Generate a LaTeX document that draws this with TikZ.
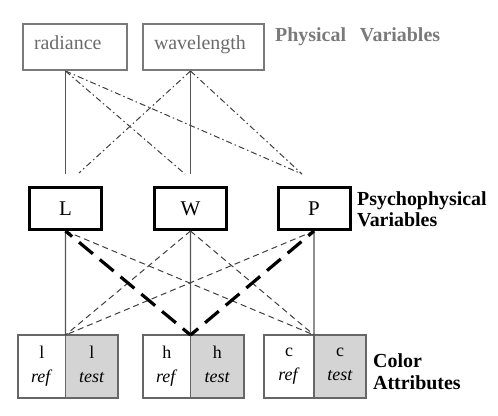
\documentclass[tikz,border=0pt]{standalone}
\usepackage{fontspec}
\setmainfont{Liberation Serif}
\usetikzlibrary{calc}
\definecolor{physgray}{HTML}{7A7A7A}
\definecolor{txtgray}{HTML}{6A6A6A}
\definecolor{linegray}{HTML}{555555}
\definecolor{boxgray}{HTML}{666666}
\definecolor{fillgray}{HTML}{D4D4D4}
\newcommand{\itf}{\vphantom{\textit{f}}}
\begin{document}
\begin{tikzpicture}[x=1bp,y=-1bp,
  physbox/.style={draw=physgray, line width=2bp, minimum height=46bp, inner xsep=11bp, inner ysep=0pt,
    align=left, text height=14bp, text depth=10bp, font=\fontsize{20}{24}\selectfont, text=txtgray},
  psybox/.style={draw=black, line width=3bp, minimum width=72bp, minimum height=42bp,
    font=\fontsize{21}{24}\selectfont},
  attr/.style={draw=boxgray, line width=1.5bp, minimum height=63bp, inner sep=0pt, outer sep=0pt,
    align=center, font=\fontsize{18}{24}\selectfont},
  testattr/.style={attr, fill=fillgray},
  heading/.style={font=\fontsize{20}{21}\selectfont\bfseries, inner sep=0pt, align=left},
  solidc/.style={draw=linegray, line width=1.2bp},
  thind/.style={draw=black!75, line width=1bp, dash pattern=on 6bp off 4bp},
  thickd/.style={draw=black, line width=3.2bp, dash pattern=on 18bp off 9bp, dash phase=8bp},
  dotd/.style={draw=black!75, line width=1bp, dash pattern=on 6bp off 3bp on 1.5bp off 3bp}
]
\useasboundingbox (0,0) rectangle (498,415);

% physical variables
\node[physbox, minimum width=104bp, text width=82bp] (rad) at (75,47) {radiance};
\node[physbox, minimum width=121bp, text width=99bp] (wav) at (203.5,47) {wavelength};
\node[heading, text=physgray, anchor=base west] (physlbl) at (275,41) {Physical\hspace{0.7em}Variables};

% psychophysical variables
\node[psybox] (L) at (65.5,208.5) {L};
\node[psybox] (W) at (190.5,208.5) {W};
\node[psybox] (P) at (314,208.5) {P};
\node[heading, anchor=west] (psylbl) at (357,209.6) {Psychophysical\\Variables};

% colour attributes
\node[attr, minimum width=47.5bp] (lref) at (41.75,366.5) {l\\\textit{ref}};
\node[testattr, minimum width=52.5bp] (ltest) at (91.75,366.5) {l\\\textit{test}\itf};
\node[attr, minimum width=47.5bp] (href) at (166.75,366.5) {h\\\textit{ref}};
\node[testattr, minimum width=53.5bp] (htest) at (217.25,366.5) {h\\\textit{test}\itf};
\node[attr, minimum width=50bp] (cref) at (289,366.5) {c\\\textit{ref}};
\node[testattr, minimum width=52bp] (ctest) at (340,366.5) {c\\\textit{test}\itf};
\node[heading, anchor=west] (attrlbl) at (373,371.7) {Color\\[2bp]Attributes};

% free ends of the upper connectors
\coordinate (Ltop) at ($(L.north)+(0,-12)$);
\coordinate (Wtop) at ($(W.north)+(0,-12)$);
\coordinate (aL) at (79,173);
\coordinate (aW) at (185,174);
\coordinate (aP) at (302,174);
\coordinate (rs) at (rad.south -| Ltop);
\coordinate (ws) at (wav.south -| Wtop);

\draw[solidc] (rs) -- (Ltop);
\draw[solidc] (ws) -- (Wtop);
\draw[dotd] (rs) -- (aW);
\draw[dotd] (rs) -- (aP);
\draw[dotd] (ws) -- (aL);
\draw[dotd] (ws) -- (aP);

% lower connectors
\draw[solidc] (L.south) -- (lref.north east);
\draw[solidc] (W.south) -- (href.north east);
\draw[solidc] (P.south) -- (cref.north east);
\draw[thind] (L.south) -- (cref.north east);
\draw[thind] (W.south) -- (lref.north east);
\draw[thind] (W.south) -- (cref.north east);
\draw[thind] (P.south) -- (lref.north east);
\draw[thickd] (href.north east) -- (L.south);
\draw[thickd] (href.north east) -- (P.south);
\end{tikzpicture}
\end{document}
